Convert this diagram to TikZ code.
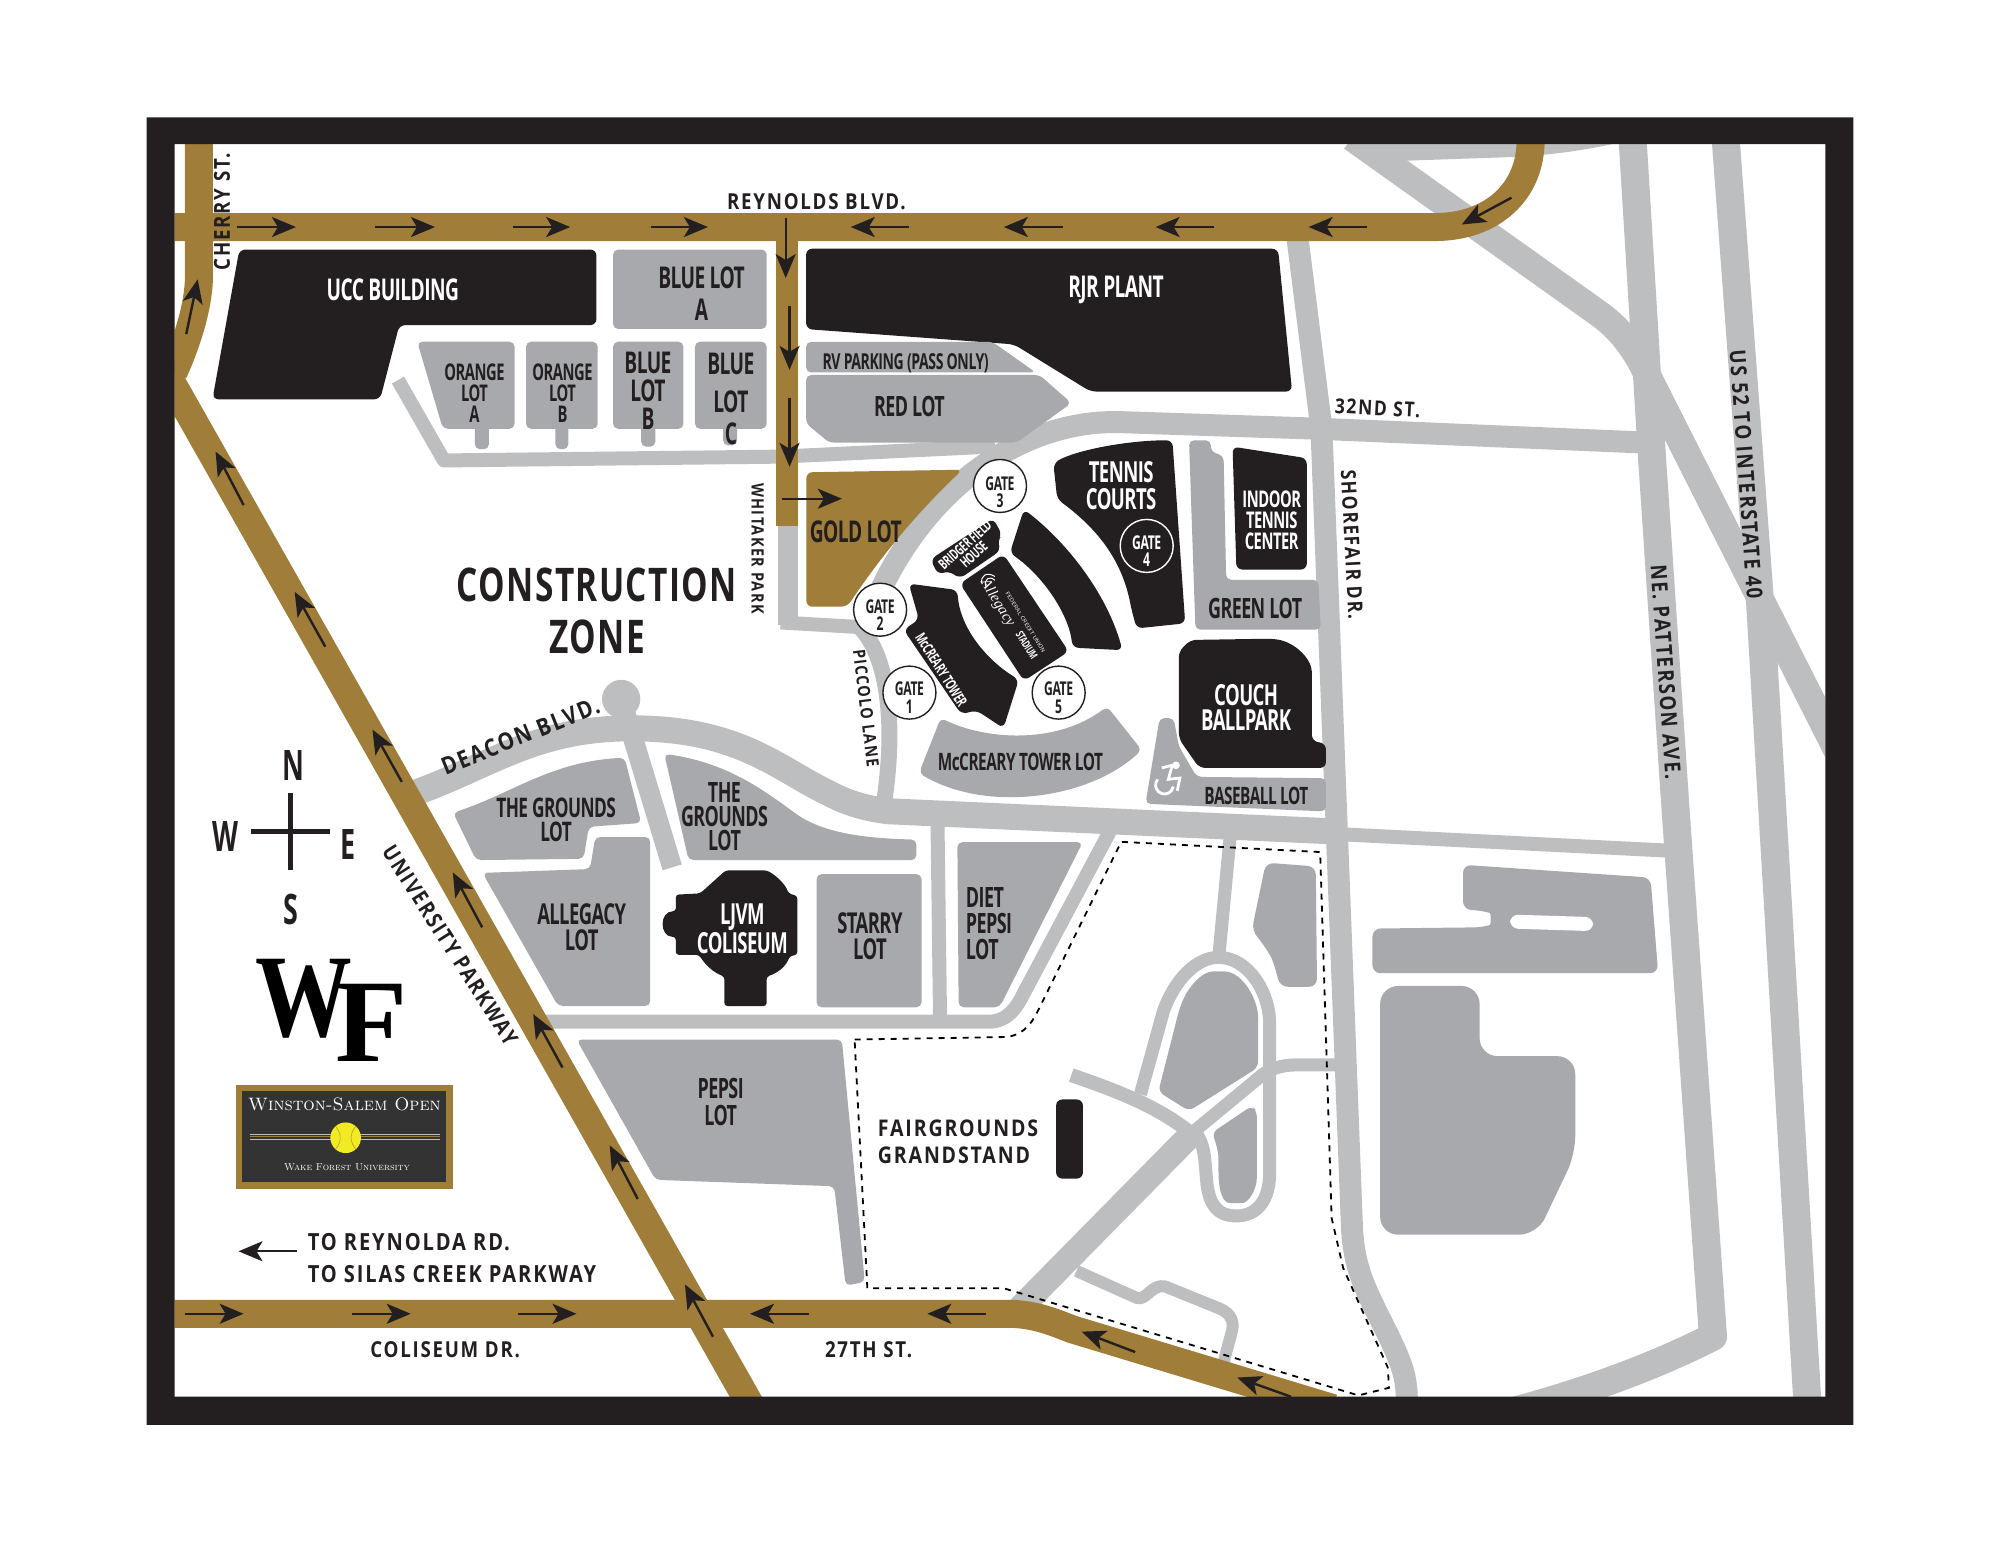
\documentclass[tikz,border=0pt]{standalone}
\usepackage{fontspec}
\usetikzlibrary{arrows.meta}
\newfontfamily\lotfont[FakeStretch=0.64,LetterSpace=-2]{Open Sans}
\newfontfamily\roadfont[FakeStretch=0.85,LetterSpace=8]{Open Sans}
\newfontfamily\zonefont[FakeStretch=0.72,LetterSpace=3]{Open Sans}
\newfontfamily\logofont{Liberation Serif}
\newcommand{\lotfs}[2]{\lotfont\bfseries\fontsize{#1}{#2}\selectfont}
\newcommand{\roadfs}[2]{\roadfont\bfseries\fontsize{#1}{#2}\selectfont}
\definecolor{framecol}{HTML}{231F20}
\definecolor{roadgrey}{HTML}{BCBEC0}
\definecolor{lotgrey}{HTML}{A7A9AC}
\definecolor{goldcol}{HTML}{A07D38}
\definecolor{badgecol}{HTML}{333333}
\definecolor{ballcol}{HTML}{F2EA22}
\tikzset{
    road/.style={draw=roadgrey,line width=#1,line join=round},
    goldroad/.style={draw=goldcol,line width=14pt,line join=round},
    lot/.style={fill=lotgrey,rounded corners=2.5pt},
    goldlot/.style={fill=goldcol,rounded corners=3pt},
    block/.style={fill=framecol,rounded corners=3pt},
    dirarrow/.style={draw=framecol,line width=1.2pt,-{Stealth[length=12pt,width=10pt,inset=3pt]}},
    lotlabel/.style={font=\lotfs{15}{16},text=framecol,align=center,inner sep=0pt},
    whitelabel/.style={lotlabel,text=white},
    roadlabel/.style={font=\roadfs{11}{13},text=framecol,align=left,inner sep=0pt},
    gatering/.style={circle,draw=framecol,fill=white,line width=0.7pt,minimum size=26.5pt,inner sep=0pt},
    gatetext/.style={lotlabel,font=\lotfs{9.5}{8.6}},
}
\begin{document}
\begin{tikzpicture}[x=0.6378pt,y=-0.6378pt]
    \useasboundingbox (0,0) rectangle (1568,1211.3);
    \begin{scope}
        \clip (137,113) rectangle (1431,1095);
        % outer roads
        \fill[roadgrey] (1070,110) -- (1270,110) -- (1264,113) .. controls (1240,118) and (1220,121) .. (1189,123) -- (1102,126) -- (1085,130) -- cycle;
        \draw[road=14pt] (1280,110) -- (1295,356) -- (1314,640) -- (1343,1048) .. controls (1290,1075) and (1230,1095) .. (1180,1108);
        \draw[road=14pt] (1353,110) -- (1380,474) -- (1417,1100);
        \draw[road=13.5pt] (1060,108) -- (1255,247) .. controls (1275,262) and (1285,280) .. (1292,295) -- (1445,598);
        \draw[road=11pt] (1017,185) -- (1036,336) -- (1060,964) .. controls (1062,995) and (1070,1010) .. (1085,1040) .. controls (1100,1070) and (1103,1080) .. (1103,1100);
        % 32nd st and the arc
        \draw[road=11pt] (1290,347) -- (1030,336) -- (880,331) .. controls (800,328) and (720,385) .. (682,482);
        \draw[road=7pt] (612,488) -- (680,492);
        \draw[road=10pt] (618,405) -- (618,490);
        \draw[road=7pt] (312,298) -- (348,361) -- (612,358) -- (780,350);
        \draw[road=8pt] (672,490) .. controls (690,505) and (705,550) .. (693,630);
        % deacon and the east west road
        \draw[road=13pt] (327,621) .. controls (385,600) and (420,571) .. (495,571) .. controls (580,571) and (610,603) .. (650,622) .. controls (665,630) and (680,634) .. (696,636) -- (1050,652);
        \draw[road=7pt] (1050,654) -- (1310,667);
        \fill[roadgrey] (487,548) circle[radius=15];
        \draw[road=10pt] (487,548) -- (527,680);
        \draw[road=7pt] (425,801) -- (775,801) .. controls (790,801) and (797,790) .. (803,778) -- (870,652);
        \draw[road=7pt] (735,645) -- (737,800);
        % fairground roads
        \begin{scope}[x=0.64pt,y=-0.64pt]
            \draw[road=6.5pt] (961,655) -- (952,750);
            \draw[road=6.5pt] (891,855) -- (909,790) .. controls (918,765) and (935,748) .. (952,748) .. controls (975,748) and (992,775) .. (992,800) -- (992,916) .. controls (992,938) and (982,950) .. (966,950) .. controls (950,950) and (945,940) .. (943,925) .. controls (941,905) and (942,895) .. (933,883);
            \draw[road=7pt] (837,840) .. controls (875,853) and (905,865) .. (930,885);
            \draw[road=12.5pt] (797,1022) -- (932,885);
            \draw[road=6.5pt] (928,888) -- (986,840) .. controls (996,833) and (1005,832) .. (1015,832) -- (1048,832);
            \draw[road=6pt] (841,993) -- (888,1014) .. controls (895,1017) and (900,1003) .. (910,1005) -- (952,1022) .. controls (962,1026) and (965,1033) .. (962,1042) -- (955,1068);
        \end{scope}
        % gold roads
        \draw[goldroad] (137,178) -- (1125,178) .. controls (1170,178) and (1200,150) .. (1200,110);
        \draw[goldroad] (156,110) -- (156,216) .. controls (156,240) and (146,270) .. (136,292);
        \draw[goldroad] (125,283) -- (592,1108);
        \draw[goldroad] (130,1030) -- (790,1030) .. controls (810,1030) and (825,1036) .. (840,1042) -- (1045,1104);
        \draw[goldroad,line width=11pt] (617,178) -- (617,412);
    \end{scope}
    \fill[block] (632,195) -- (1002,195) -- (1013,307) -- (855,307) -- (795,270) -- (632,258) -- cycle;
    \fill[lot] (632,268) -- (778,268) -- (812,292) -- (632,292) -- cycle;
    \fill[lot] (632,294) -- (815,294) -- (840,316) -- (797,347) -- (650,347) -- (632,332) -- cycle;
    \fill[lot] (452,815) -- (660,815) -- (678,1005) -- (663,1008) -- (654,930) -- (514,925) -- cycle;
    \fill[block] (828,862) rectangle (849,924);
    \fill[lot,rounded corners=4pt] (1147,678) -- (1294,688) -- (1300,763) -- (1076,763) -- (1076,728) -- (1162,727) .. controls (1169,725) and (1169,716) .. (1162,714) -- (1147,713) -- cycle;
    \fill[white,rounded corners=4pt] (1184,717) -- (1249,719) -- (1249,730) -- (1184,728) -- cycle;
    \fill[lot,rounded corners=9pt] (1082,773) -- (1160,773) -- (1160,828) -- (1235,828) -- (1235,905) -- (1205,968) -- (1082,968) -- cycle;
    \begin{scope}[x=0.64pt,y=-0.64pt]
        % lots north
        \fill[block] (187,195) -- (466,195) -- (466,254) -- (312,254) -- (297,312) -- (166,312) -- cycle;
        \fill[lot] (479,195) rectangle (599,257);
        \fill[lot] (371,330) rectangle (382,351);
        \fill[lot] (434,330) rectangle (444,351);
        \fill[lot] (501,330) rectangle (512,349);
        \fill[lot] (565,330) rectangle (576,348);
        \fill[lot] (326,267) -- (402,267) -- (402,335) -- (346,335) -- cycle;
        \fill[lot] (411,267) rectangle (467,335);
        \fill[lot] (479,267) rectangle (534,335);
        \fill[lot] (543,267) rectangle (599,335);
        \fill[goldlot] (630,369) -- (752,367) .. controls (717,400) and (688,435) .. (662,474) -- (630,474) -- cycle;
        % lots east of stadium
        \fill[lot] (929,344) -- (946,344) -- (946,353) -- (956,356) -- (958,453) -- (1030,453) -- (1032,492) -- (934,492) -- cycle;
        \fill[block] (963,349) -- (1021,358) -- (1021,445) -- (966,445) -- cycle;
        \fill[block] (823,362) .. controls (840,352) and (880,344) .. (916,344) -- (926,487) -- (888,491) -- (884,476) .. controls (877,440) and (860,415) .. (826,390) -- cycle;
        \fill[block] (930,500) -- (994,499) .. controls (1012,502) and (1025,515) .. (1025,530) -- (1025,579) -- (1036,581) -- (1036,600) -- (937,600) -- (921,577) -- (921,509) -- cycle;
        \fill[lot] (906,561) -- (917,561) -- (921,583) -- (935,607) -- (1036,608) -- (1036,634) -- (895,628) -- cycle;
        % stadium
        \fill[block] (800,398) .. controls (835,425) and (865,465) .. (877,508) -- (838,506) .. controls (835,480) and (815,450) .. (789,432) -- cycle;
        \fill[block] (784,433) -- (835,509) -- (800,532) -- (750,456) -- cycle;
        \fill[block] (776,405) -- (783,418) -- (779,423) -- (782,430) -- (750,452) -- (741,446) -- (733,449) -- (727,437) -- cycle;
        \fill[block] (710,456) -- (748,461) .. controls (750,490) and (770,515) .. (796,531) -- (784,569) -- (763,555) -- (751,558) -- (706,492) -- (718,484) -- cycle;
        \fill[lot] (735,561) .. controls (770,578) and (825,582) .. (865,552) -- (892,586) .. controls (850,625) and (770,635) .. (718,604) -- cycle;
        % lots south of deacon
        \fill[lot] (354,635) .. controls (400,620) and (430,595) .. (488,592) -- (501,643) -- (460,646) -- (456,671) -- (372,672) -- cycle;
        \fill[lot] (377,682) -- (461,679) -- (465,654) -- (508,654) -- (508,786) -- (436,786) -- cycle;
        \fill[lot] (519,589) .. controls (570,596) and (600,620) .. (625,638) .. controls (650,652) and (680,655) .. (716,656) -- (716,672) -- (538,672) -- cycle;
        \fill[block,rounded corners=1.5pt] (567,680) -- (599,680) .. controls (608,685) and (614,692) .. (616,698) -- (623,700) -- (623,746) -- (617,747) .. controls (614,755) and (608,760) .. (599,763) -- (599,786) -- (566,786) -- (566,763) .. controls (558,760) and (552,755) .. (546,746) -- (528,746) -- (528,732) .. controls (515,732) and (515,712) .. (528,712) -- (528,699) -- (547,698) -- cycle;
        \fill[lot] (638,683) rectangle (720,787);
        \fill[lot] (748,658) -- (846,658) -- (781,787) -- (749,787) -- cycle;
        % fairground lots
        \fill[lot,rounded corners=4pt] (989,674) -- (1028,677) -- (1029,771) -- (1000,771) -- (996,755) .. controls (992,745) and (985,735) .. (978,727) -- cycle;
        \fill[lot,rounded corners=3pt] (905,853) -- (921,790) .. controls (928,770) and (940,759) .. (952,759) .. controls (970,759) and (983,780) .. (983,800) -- (983,834) -- (929,868) -- cycle;
        \fill[lot,rounded corners=3pt] (978,864) -- (982,868) -- (982,915) .. controls (982,930) and (975,940) .. (966,940) .. controls (955,940) and (952,930) .. (952,910) .. controls (952,900) and (950,893) .. (947,885) -- cycle;
    \end{scope}
    % fairgrounds boundary
    \draw[black,line width=0.9pt,dashed] (670,815) -- (790,813) .. controls (805,810) and (810,800) .. (815,790) -- (879,660) -- (1035,668) -- (1044,955) -- (1053,994) -- (1088,1072) -- (1089,1088) -- (1065,1094) -- (787,1010) -- (680,1010) -- cycle;
    % directions
    \draw[dirarrow] (186,178) -- (232,178);
    \draw[dirarrow] (294,178) -- (341,178);
    \draw[dirarrow] (402,178) -- (447,178);
    \draw[dirarrow] (510,178) -- (555,178);
    \draw[dirarrow] (713,178) -- (667,178);
    \draw[dirarrow] (833,178) -- (787,178);
    \draw[dirarrow] (952,178) -- (906,178);
    \draw[dirarrow] (1072,178) -- (1026,178);
    \draw[dirarrow] (1185,155) -- (1146,176);
    \draw[dirarrow] (616,171) -- (616,218);
    \draw[dirarrow] (619,240) -- (619,290);
    \draw[dirarrow] (619,312) -- (619,366);
    \draw[dirarrow] (613,391) -- (660,391);
    \draw[dirarrow] (146,262) -- (155,219);
    \draw[dirarrow] (191,396) -- (169,354);
    \draw[dirarrow] (255,507) -- (231,464);
    \draw[dirarrow] (315,613) -- (292,572);
    \draw[dirarrow] (378,727) -- (355,684);
    \draw[dirarrow] (441,837) -- (418,795);
    \draw[dirarrow] (500,940) -- (478,898);
    \draw[dirarrow] (559,1048) -- (537,1007);
    \draw[dirarrow] (145,1030) -- (191,1030);
    \draw[dirarrow] (276,1030) -- (322,1030);
    \draw[dirarrow] (406,1030) -- (452,1030);
    \draw[dirarrow] (634,1030) -- (588,1030);
    \draw[dirarrow] (773,1030) -- (727,1030);
    \draw[dirarrow] (890,1060) -- (848,1044);
    \draw[dirarrow] (1012,1095) -- (970,1080);
    \draw[dirarrow] (233,981) -- (187,981);
    % frame
    \fill[framecol,even odd rule] (115,92) rectangle (1453,1117) (137,113) rectangle (1431,1095);
    % lot names
    \node[whitelabel] (uccname) at (308,227) {UCC BUILDING};
    \node[whitelabel] (rjrname) at (875,227) {RJR PLANT};
    \node[lotlabel] (bluea) at (550,230) {BLUE LOT\\A};
    \node[lotlabel,font=\lotfs{11.5}{10.5}] (orangea) at (372,308) {ORANGE\\LOT\\A};
    \node[lotlabel,font=\lotfs{11.5}{10.5}] (orangeb) at (441,308) {ORANGE\\LOT\\B};
    \node[lotlabel,font=\lotfs{15}{14}] (blueb) at (508,306) {BLUE\\LOT\\B};
    \node[lotlabel,font=\lotfs{15}{16}] (bluec) at (573,313) {BLUE\\[3pt]LOT\\C};
    \node[lotlabel,font=\lotfs{11}{10}] (rvlot) at (710,285) {RV PARKING (PASS ONLY)};
    \node[lotlabel,font=\lotfs{14}{15}] (redlot) at (713,319) {RED LOT};
    \node[lotlabel] (goldname) at (671,417) {GOLD LOT};
    \node[whitelabel,font=\lotfs{14.5}{13.5}] (tennis) at (879,381) {TENNIS\\COURTS};
    \node[whitelabel,font=\lotfs{11.5}{10.5}] (indoor) at (997,408) {INDOOR\\TENNIS\\CENTER};
    \node[lotlabel,font=\lotfs{14}{13}] (greenlot) at (984,477) {GREEN LOT};
    \node[whitelabel,font=\lotfs{14.5}{12.5}] (couch) at (977,555) {COUCH\\BALLPARK};
    \node[lotlabel,font=\lotfs{12}{11}] (baseball) at (985,624) {BASEBALL LOT};
    \node[lotlabel,font=\lotfs{12}{12}] (mcclot) at (800,597) {McCREARY TOWER LOT};
    \node[whitelabel,font=\lotfs{7.3}{6.5},rotate=42] (bridger) at (760,431) {BRIDGER FIELD\\HOUSE};
    \node[whitelabel,font=\lotfs{7.5}{8},rotate=-58] (mcctower) at (738,525) {McCREARY TOWER};
    \node[whitelabel,font=\logofont\itshape\fontsize{7.5}{9}\selectfont,rotate=-58] (allegacy) at (782,473) {Allegacy};
    \node[whitelabel,font=\fontsize{2.8}{3}\selectfont\sffamily,rotate=-58] (fcu) at (804,488) {FEDERAL CREDIT UNION};
    \node[whitelabel,font=\lotfs{5.5}{6},rotate=-58] (stadium) at (805,506) {STADIUM};
    \draw[white,line width=0.5pt] (770,458) .. controls (768,451) and (774,448) .. (780,452);
    \draw[white,line width=0.5pt] (773,460) .. controls (771,454) and (776,451) .. (780,455);
    \node[lotlabel,font=\lotfs{13.5}{12}] (groundsa) at (436,643) {THE GROUNDS\\LOT};
    \node[lotlabel,font=\lotfs{14}{12}] (groundsb) at (568,640) {THE\\GROUNDS\\LOT};
    \node[lotlabel,font=\lotfs{14.4}{13.4}] (allegacylot) at (456,727) {ALLEGACY\\LOT};
    \node[whitelabel,font=\lotfs{14.5}{13.2}] (ljvm) at (582,728) {LJVM\\COLISEUM};
    \node[lotlabel,font=\lotfs{14.4}{13.4}] (starry) at (682,734) {STARRY\\LOT};
    \node[lotlabel,font=\lotfs{14}{13},align=left,anchor=west] (diet) at (757,724) {DIET\\PEPSI\\LOT};
    \node[lotlabel,font=\lotfs{14}{13.4}] (pepsi) at (565,864) {PEPSI\\LOT};
    % gates
    \node[gatering] (gateone) at (713,543) {};
    \node[gatering] (gatetwo) at (690,478) {};
    \node[gatering] (gatethree) at (784,381) {};
    \node[gatering,draw=white,fill=framecol] (gatefour) at (899,428) {};
    \node[gatering] (gatefive) at (830,543) {};
    \node[gatetext] (gateonetext) at (713,547) {GATE\\1};
    \node[gatetext] (gatetwotext) at (690,482) {GATE\\2};
    \node[gatetext] (gatethreetext) at (784,386) {GATE\\3};
    \node[gatetext,text=white] (gatefourtext) at (899,432) {GATE\\4};
    \node[gatetext] (gatefivetext) at (830,547) {GATE\\5};
    % wheelchair
    \fill[white] (922,600) circle[radius=3];
    \draw[white,line width=1.4pt] (911,602) -- (919,600) -- (916,611) -- (925,610) -- (923,620);
    \draw[white,line width=1.4pt] (907.6,611) arc[start angle=220,end angle=10,radius=7];
    % road names
    \node[roadlabel] (reynolds) at (640,158) {REYNOLDS BLVD.};
    \node[roadlabel,rotate=90] (cherry) at (174,166) {CHERRY ST.};
    \node[roadlabel,font=\roadfs{8.5}{11},rotate=-90] (whitaker) at (594,430) {WHITAKER PARK};
    \node[roadlabel,font=\roadfs{8.5}{11},rotate=-83] (piccolo) at (679,555) {PICCOLO LANE};
    \node[roadlabel,font=\roadfs{10.3}{11},rotate=-87] (shorefair) at (1060,427) {SHOREFAIR DR.};
    \node[roadlabel,font=\roadfs{10.3}{11},rotate=-3] (thirtysecond) at (1080,320) {32ND ST.};
    \node[roadlabel,rotate=-86] (patterson) at (1306,527) {NE. PATTERSON AVE.};
    \node[roadlabel,rotate=-86] (interstate) at (1369,372) {US 52 TO INTERSTATE 40};
    \node[roadlabel,font=\roadfs{12}{13},rotate=22] (deacon) at (408,577) {DEACON BLVD.};
    \node[roadlabel,rotate=-57.5] (university) at (353,741) {UNIVERSITY PARKWAY};
    \node[roadlabel] (coliseumdr) at (349,1058) {COLISEUM DR.};
    \node[roadlabel] (twentyseventh) at (681,1058) {27TH ST.};
    \node[roadlabel,anchor=west,font=\roadfs{11.8}{16}] (toroads) at (241,986) {TO REYNOLDA RD.\\TO SILAS CREEK PARKWAY};
    \node[roadlabel,anchor=west,font=\roadfs{11.5}{13.5}] (grandstand) at (688,895) {FAIRGROUNDS\\GRANDSTAND};
    \node[roadlabel,align=center,font=\zonefont\bfseries\fontsize{23.2}{26}\selectfont] (construction) at (468,479) {CONSTRUCTION\\ZONE};
    % compass
    \node[lotlabel,font=\lotfs{21}{22}] (north) at (230,600) {N};
    \node[lotlabel,font=\lotfs{21}{22}] (west) at (177,656) {W};
    \node[lotlabel,font=\lotfs{21}{22}] (east) at (273,662) {E};
    \node[lotlabel,font=\lotfs{21}{22}] (south) at (228,713) {S};
    \draw[framecol,line width=2.5pt] (197,652) -- (259,652);
    \draw[framecol,line width=2.5pt] (228,622) -- (228,682);
    % logo
    \node[inner sep=0pt,font=\logofont\bfseries\fontsize{59}{59}\selectfont,xscale=0.82,transform shape] (logow) at (238,783) {W};
    \node[inner sep=0pt,font=\logofont\bfseries\fontsize{59}{59}\selectfont] (logof) at (291,802) {F};
    % badge
    \fill[goldcol] (185,851) rectangle (355,932);
    \fill[badgecol] (190,855) rectangle (350,927);
    \draw[roadgrey,line width=0.3pt] (196,889) -- (345,889);
    \draw[goldcol,line width=0.4pt] (196,891) -- (345,891);
    \draw[roadgrey,line width=0.3pt] (196,893) -- (345,893);
    \fill[ballcol] (271,892) circle[radius=12];
    \draw[goldcol!70!ballcol,line width=0.3pt] (263,883) .. controls (268,889) and (268,895) .. (263,901);
    \draw[goldcol!70!ballcol,line width=0.3pt] (279,883) .. controls (274,889) and (274,895) .. (279,901);
    \node[inner sep=0pt,text=white,font=\scshape\fontsize{9}{10}\selectfont] (badgetop) at (270,866) {Winston-Salem Open};
    \node[inner sep=0pt,text=white,font=\scshape\fontsize{5}{6}\selectfont] (badgelow) at (272,915) {Wake Forest University};
\end{tikzpicture}
\end{document}
